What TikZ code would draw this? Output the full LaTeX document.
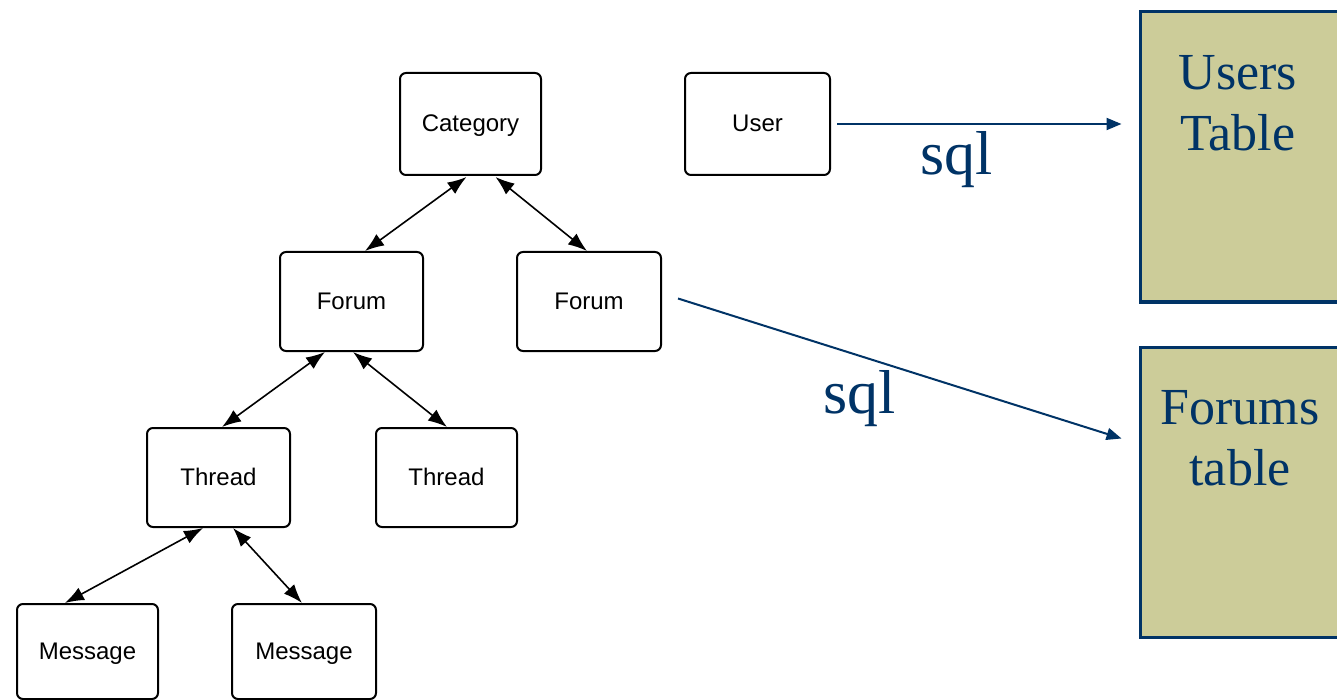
\documentclass[tikz,border=0pt]{standalone}
\usepackage{fontspec}
\setmainfont{Liberation Serif}
\setsansfont{Liberation Sans}
\usetikzlibrary{arrows.meta,calc}
\definecolor{navy}{RGB}{0,51,102}
\definecolor{khaki}{RGB}{204,204,153}

\begin{document}
\begin{tikzpicture}[x=1pt,y=-1pt,
  entity/.style={draw=black, line width=2pt, rounded corners=6pt, fill=white,
    inner sep=0pt, font=\sffamily\fontsize{24}{28}\selectfont,
    text height=20pt, text depth=4pt},
  link/.style={line width=1.6pt,
    {Latex[length=19pt,width=14pt]}-{Latex[length=19pt,width=14pt]}},
  dbtable/.style={draw=navy, line width=3pt, fill=khaki, inner sep=0pt,
    minimum width=200pt, minimum height=290pt},
  tabletext/.style={text=navy, font=\rmfamily\fontsize{52}{61}\selectfont,
    align=center, inner sep=0pt},
  sqlflow/.style={draw=navy, line width=2pt, -{Triangle[length=15pt,width=12pt]}},
  sqllabel/.style={text=navy, font=\rmfamily\fontsize{62}{62}\selectfont, inner sep=0pt}
]
\clip (0,0) rectangle (1337,700);
\fill[white] (0,0) rectangle (1337,700);

% object hierarchy
\node[entity, minimum width=141pt, minimum height=102pt] (cat)     at (470.5,124)   {Category};
\node[entity, minimum width=145pt, minimum height=102pt] (user)    at (757.5,124)   {User};
\node[entity, minimum width=143pt, minimum height=99pt]  (forumA)  at (351.5,301.5) {Forum};
\node[entity, minimum width=144pt, minimum height=99pt]  (forumB)  at (589,301.5)   {Forum};
\node[entity, minimum width=143pt, minimum height=99pt]  (threadA) at (218.5,477.5) {Thread};
\node[entity, minimum width=141pt, minimum height=99pt]  (threadB) at (446.5,477.5) {Thread};
\node[entity, minimum width=141pt, minimum height=95pt]  (msgA)    at (87.5,651.5)  {Message};
\node[entity, minimum width=144pt, minimum height=95pt]  (msgB)    at (304,651.5)   {Message};

% database tables
\node[dbtable] (utab) at (1240,157) {};
\node[dbtable] (ftab) at (1240,492) {};
\node[tabletext, anchor=north] (utxt) at ($(utab.north)+(-2,45)$) {Users\\Table};
\node[tabletext, anchor=north] (ftxt) at ($(ftab.north)+(0,45)$) {Forums\\table};

% parent/child links
\draw[link] ($(cat.south)+(-4,1)$)       -- ($(forumA.north)+(13.5,0)$);
\draw[link] ($(cat.south)+(25,1)$)       -- ($(forumB.north)+(-2,0)$);
\draw[link] ($(forumA.south)+(-26.5,0)$) -- ($(threadA.north)+(3.5,0)$);
\draw[link] ($(forumA.south)+(1.5,0)$)   -- ($(threadB.north)+(0.5,0)$);
\draw[link] ($(threadA.south)+(-15.5,0)$) -- ($(msgA.north)+(-22.5,0)$);
\draw[link] ($(threadA.south)+(14.5,0)$) -- ($(msgB.north)+(-2,0)$);

% persistence via sql
\draw[sqlflow] ($(user.east)+(6,0)$) -- ($(utab.west |- user.east)+(-17,0)$);
\draw[sqlflow] ($(forumB.east)+(16,-3)$) -- ($(ftab.north west)+(-17,93)$);
\node[sqllabel, anchor=base west] (sqlA) at (920,175) {sql};
\node[sqllabel, anchor=base west] (sqlB) at (823,413) {sql};
\end{tikzpicture}
\end{document}
